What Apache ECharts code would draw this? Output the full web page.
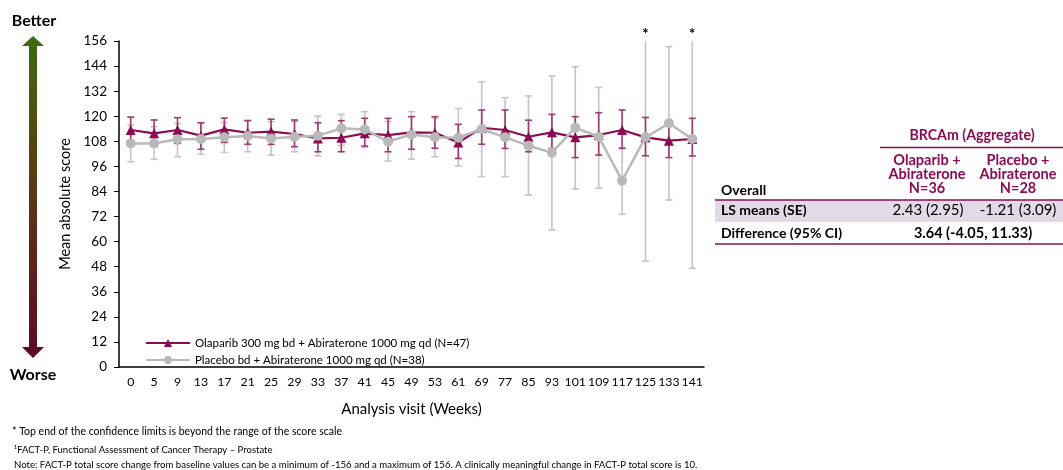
<!DOCTYPE html>
<html><head><meta charset="utf-8">
<script src="https://cdn.jsdelivr.net/npm/echarts@6/dist/echarts.min.js"></script>
<style>html,body{margin:0;padding:0;background:#fff}#c{width:1063px;height:470px}</style>
</head><body><div id="c"></div>
<script>
const weeks = ['0','5','9','13','17','21','25','29','33','37','41','45','49','53','61','69','77','85','93','101','109','117','125','133','141'];
const yTicks = [0,12,24,36,48,60,72,84,96,108,120,132,144,156];
const olaMean  = [113.4,111.8,113.4,110.7,113.7,112.1,112.6,111.5,109.4,109.7,111.8,111.0,112.3,112.1,107.4,114.5,113.4,110.2,112.3,109.9,111.0,113.4,109.9,108.3,109.1];
const olaLow   = [107.0,105.5,107.0,104.2,107.5,106.6,106.5,105.4,103.0,103.0,105.7,103.0,104.2,104.7,99.8,106.6,104.6,103.0,104.6,100.2,101.4,104.6,101.1,100.2,101.0];
const olaHigh  = [119.6,118.2,119.3,116.9,119.1,117.9,118.6,118.2,116.9,117.9,119.0,119.0,119.8,119.8,116.1,123.0,123.0,118.1,120.9,119.8,121.7,123.0,119.4,117.0,119.0];
const plaMean  = [107.0,107.0,109.0,109.1,109.9,110.5,109.4,110.2,110.7,114.2,113.7,107.8,111.3,109.9,109.7,113.9,109.9,105.9,102.6,114.5,110.2,89.2,109.9,116.6,109.1];
const plaLow   = [98.2,99.4,100.6,101.8,102.7,103.0,101.4,103.0,101.0,106.0,105.0,98.6,99.5,100.6,96.2,91.1,91.1,82.3,65.6,85.2,85.5,73.1,50.7,79.9,47.2];
const plaHigh  = [115.8,115.0,116.5,116.5,117.0,118.0,117.4,117.4,120.1,120.9,122.2,117.5,122.2,119.0,123.7,136.5,128.9,129.7,139.3,143.7,133.8,105.0,156.0,153.3,156.0];
const plaBeyond = [0,0,0,0,0,0,0,0,0,0,0,0,0,0,0,0,0,0,0,0,0,0,1,0,1];
const legendNames = ['Olaparib 300 mg bd + Abiraterone 1000 mg qd (N=47)','Placebo bd + Abiraterone 1000 mg qd (N=38)'];
const tableHead = ['BRCAm (Aggregate)'];
const colHeads = ['Olaparib +\nAbiraterone\nN=36','Placebo +\nAbiraterone\nN=28'];
const rowLabels = ['Overall','LS means (SE)','Difference (95% CI)'];
const lsMeans = ['2.43 (2.95)','-1.21 (3.09)'];
const diffText = '3.64 (-4.05, 11.33)';
const footnotes = ['* Top end of the confidence limits is beyond the range of the score scale','¹FACT-P, Functional Assessment of Cancer Therapy – Prostate','Note: FACT-P total score change from baseline values can be a minimum of -156 and a maximum of 156. A clinically meaningful change in FACT-P total score is 10.'];

const PURPLE = '#8c0b52', PURPLE_EB = '#a03a73', GRAY = '#b9b9b9', GRAY_EB = '#c4c4c4';
const FONT = 'Lato, "Open Sans", sans-serif';

function errData(lo, hi, flags){ return weeks.map((w,i)=>[i, lo[i], hi[i], flags? flags[i]:0]); }
function errRender(color, capW){
  return function(params, api){
    const x = api.value(0), lo = api.value(1), hi = api.value(2), beyond = api.value(3);
    const p1 = api.coord([x, lo]), p2 = api.coord([x, hi]);
    const ch = [];
    ch.push({type:'line', shape:{x1:p1[0],y1:p1[1],x2:p2[0],y2:p2[1]}, style:{stroke:color,lineWidth:1.6}});
    ch.push({type:'line', shape:{x1:p1[0]-capW,y1:p1[1],x2:p1[0]+capW,y2:p1[1]}, style:{stroke:color,lineWidth:1.6}});
    if(!beyond){
      ch.push({type:'line', shape:{x1:p2[0]-capW,y1:p2[1],x2:p2[0]+capW,y2:p2[1]}, style:{stroke:color,lineWidth:1.6}});
    } else {
      ch.push({type:'text', style:{text:'*', x:p2[0], y:p2[1]+1, align:'center', verticalAlign:'bottom', fill:'#000', font:'bold 15px '+FONT}});
    }
    return {type:'group', children:ch};
  };
}

const chart = echarts.init(document.getElementById('c'));
const gradient = new echarts.graphic.LinearGradient(0,0,0,1,[
  {offset:0,color:'#3d6b12'},{offset:0.45,color:'#5a3a14'},{offset:1,color:'#5c0a26'}]);

const graphics = [
  {type:'polygon', shape:{points:[[33,36],[44,46],[37,46],[37,347],[44,347],[33,358],[22,347],[29,347],[29,46],[22,46]]}, style:{fill:gradient}},
  {type:'text', x:34, y:21, style:{text:'Better', font:'bold 16px '+FONT, fill:'#000', align:'center', verticalAlign:'middle'}},
  {type:'text', x:33, y:375, style:{text:'Worse', font:'bold 16px '+FONT, fill:'#000', align:'center', verticalAlign:'middle'}},
  // table
  {type:'text', x:972, y:135, style:{text:tableHead[0], font:'bold 14.2px '+FONT, fill:PURPLE, align:'center', verticalAlign:'middle'}},
  {type:'line', shape:{x1:880,y1:147.5,x2:1063,y2:147.5}, style:{stroke:PURPLE,lineWidth:1.5}},
  {type:'text', x:927, y:174, style:{text:colHeads[0], font:'bold 14.5px '+FONT, fill:PURPLE, align:'center', verticalAlign:'middle', lineHeight:14}},
  {type:'text', x:1018, y:174, style:{text:colHeads[1], font:'bold 14.5px '+FONT, fill:PURPLE, align:'center', verticalAlign:'middle', lineHeight:14}},
  {type:'text', x:721, y:190, style:{text:rowLabels[0], font:'bold 14px '+FONT, fill:'#000', align:'left', verticalAlign:'middle'}},
  {type:'rect', shape:{x:715,y:200,width:348,height:21}, style:{fill:'#e2dae6'}},
  {type:'line', shape:{x1:715,y1:200,x2:1063,y2:200}, style:{stroke:PURPLE,lineWidth:1.5}},
  {type:'text', x:721, y:210.5, style:{text:rowLabels[1], font:'bold 14px '+FONT, fill:'#000', align:'left', verticalAlign:'middle'}},
  {type:'text', x:928, y:210.5, style:{text:lsMeans[0], font:'15px '+FONT, fill:'#000', align:'center', verticalAlign:'middle'}},
  {type:'text', x:1018, y:210.5, style:{text:lsMeans[1], font:'15px '+FONT, fill:'#000', align:'center', verticalAlign:'middle'}},
  {type:'line', shape:{x1:715,y1:221,x2:1063,y2:221}, style:{stroke:'#d4c8d9',lineWidth:1}},
  {type:'text', x:721, y:233, style:{text:rowLabels[2], font:'bold 14px '+FONT, fill:'#000', align:'left', verticalAlign:'middle'}},
  {type:'text', x:973, y:233, style:{text:diffText, font:'bold 14.5px '+FONT, fill:'#000', align:'center', verticalAlign:'middle'}},
  {type:'line', shape:{x1:715,y1:244,x2:1063,y2:244}, style:{stroke:PURPLE,lineWidth:1.5}},
  // footnotes
  {type:'text', x:12, y:432, style:{text:footnotes[0], font:'10.5px '+FONT, fill:'#000', verticalAlign:'middle'}},
  {type:'text', x:14, y:450, style:{text:footnotes[1], font:'9.5px '+FONT, fill:'#000', verticalAlign:'middle'}},
  {type:'text', x:14, y:465, style:{text:footnotes[2], font:'9.6px '+FONT, fill:'#000', verticalAlign:'middle'}}
];

chart.setOption({
  animation:false,
  textStyle:{fontFamily:FONT},
  grid:{left:119, right:359, top:41, bottom:103, containLabel:false},
  legend:{
    orient:'vertical', left:140, top:332, itemWidth:44, itemHeight:10, itemGap:5,
    textStyle:{fontSize:11.5, color:'#000', fontFamily:FONT},
    data:[legendNames[0], legendNames[1]]
  },
  xAxis:{
    type:'category', data:weeks, boundaryGap:true,
    name:'Analysis visit (Weeks)', nameLocation:'middle', nameGap:35,
    nameTextStyle:{fontSize:15, color:'#000', fontFamily:FONT},
    axisLine:{lineStyle:{color:'#000', width:1.5}},
    axisTick:{alignWithLabel:true, length:4, lineStyle:{color:'#000'}},
    axisLabel:{fontSize:12.3, color:'#000', margin:9, interval:0, fontFamily:FONT},
    splitLine:{show:false}
  },
  yAxis:{
    type:'value', min:0, max:156, interval:12,
    name:'Mean absolute score', nameLocation:'middle', nameGap:43, nameRotate:90,
    nameTextStyle:{fontSize:14.5, color:'#000', fontFamily:FONT},
    axisLine:{show:true, lineStyle:{color:'#000', width:1.5}},
    axisTick:{show:true, length:5, lineStyle:{color:'#000'}},
    axisLabel:{fontSize:13.5, color:'#000', margin:12, fontFamily:FONT},
    splitLine:{show:false}
  },
  graphic:graphics,
  series:[
    {type:'custom', name:'plaErr', renderItem:errRender(GRAY_EB,3.5), data:errData(plaLow,plaHigh,plaBeyond), z:1, clip:false, encode:{x:0,y:[1,2]}},
    {type:'custom', name:'olaErr', renderItem:errRender(PURPLE_EB,3.5), data:errData(olaLow,olaHigh,null), z:2, clip:false, encode:{x:0,y:[1,2]}},
    {type:'line', name:legendNames[0], data:olaMean, symbol:'triangle', symbolSize:10, lineStyle:{color:PURPLE,width:2.2}, itemStyle:{color:PURPLE}, z:3},
    {type:'line', name:legendNames[1], data:plaMean, symbol:'circle', symbolSize:10, lineStyle:{color:GRAY,width:2.5}, itemStyle:{color:GRAY}, z:4}
  ]
});
</script></body></html>
